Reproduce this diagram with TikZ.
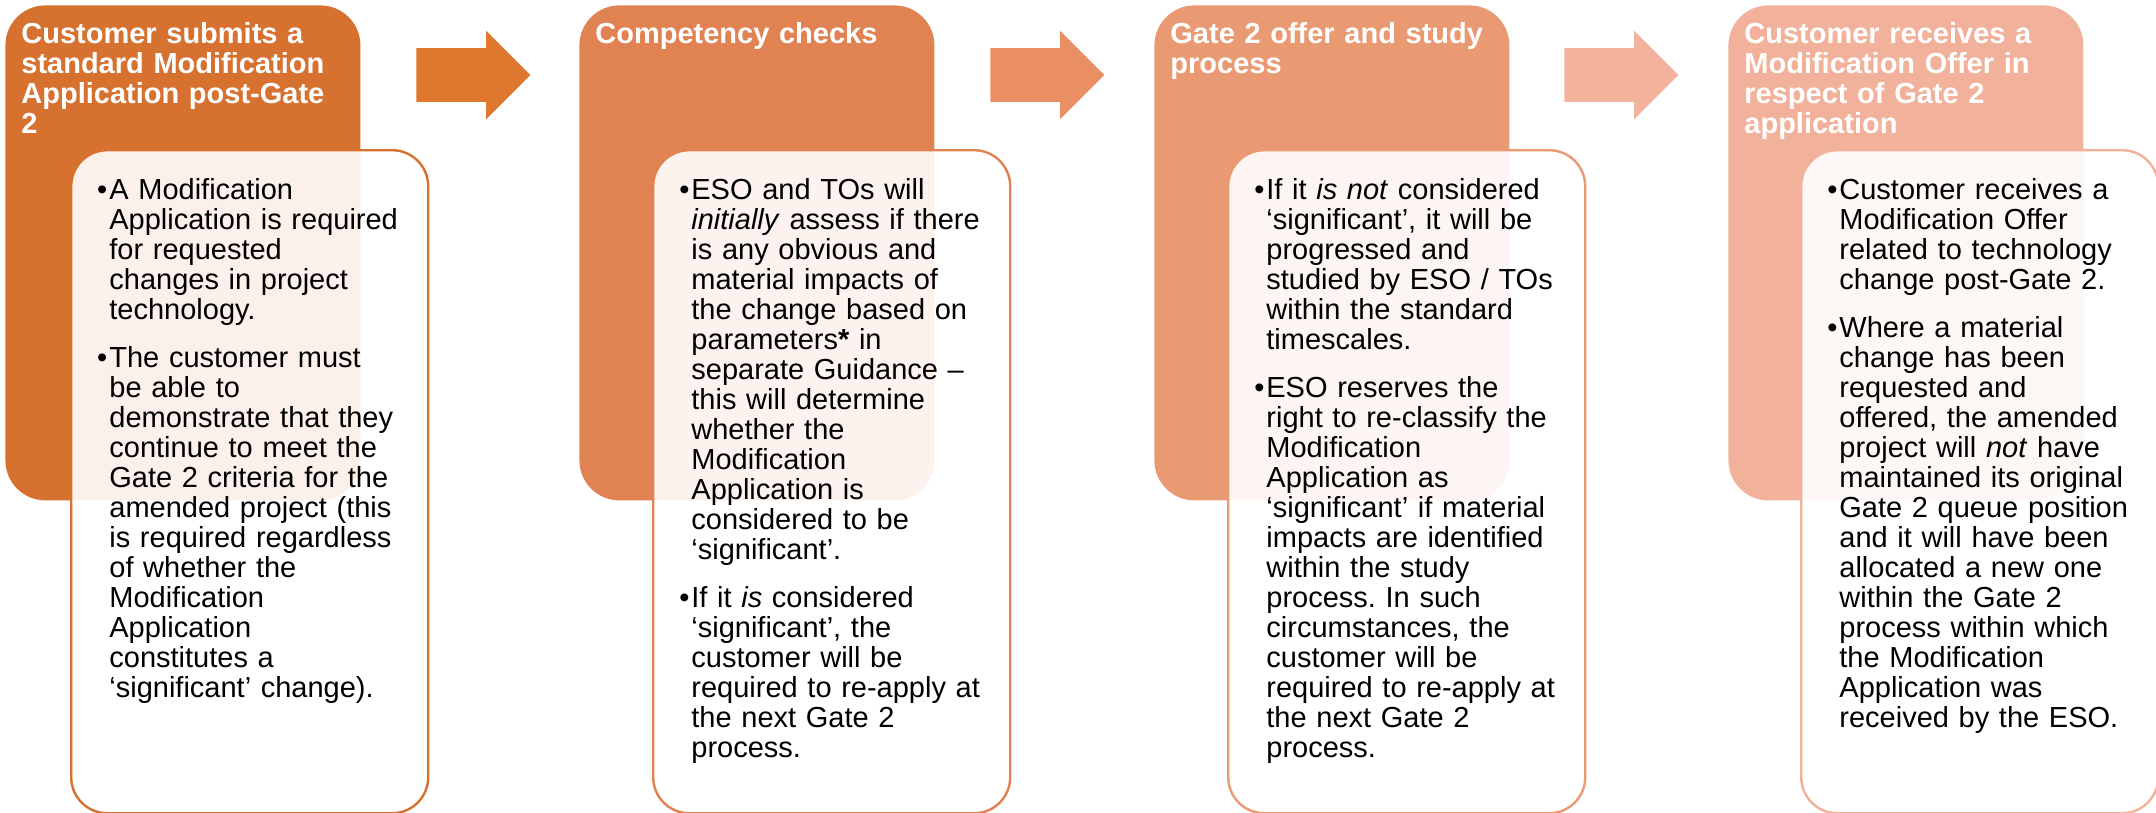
\documentclass[tikz,border=0pt]{standalone}
\usepackage{fontspec}
\setmainfont{Liberation Sans}
\usetikzlibrary{positioning,shapes.arrows}

\definecolor{stageA}{HTML}{D7712F}
\definecolor{stageB}{HTML}{E18252}
\definecolor{stageC}{HTML}{EA9A73}
\definecolor{stageD}{HTML}{F1B19A}
\definecolor{arrowA}{HTML}{E0772F}
\definecolor{arrowB}{HTML}{EA8E64}
\definecolor{arrowC}{HTML}{F2B29B}

\newcommand{\bul}{\leavevmode\llap{\textbullet\kern1pt}}
\frenchspacing

\tikzset{
  stagebox/.style={rectangle, rounded corners=20pt, anchor=north west, inner sep=0pt,
    minimum width=177.5pt, minimum height=247.5pt},
  detailbox/.style={rectangle, rounded corners=18pt, anchor=north west, inner sep=0pt,
    minimum width=178.5pt, minimum height=331.5pt, line width=1.2pt,
    fill=white, fill opacity=0.9},
  stagetitle/.style={anchor=base west, inner sep=0pt, text width=175pt, align=left,
    text=white, font=\fontsize{14.5}{15}\selectfont\bfseries},
  detailtext/.style={anchor=base west, inner sep=0pt, text width=170pt, align=left,
    font=\fontsize{14.5}{15}\selectfont},
  stagearrow/.style={single arrow, single arrow head extend=8.75pt,
    single arrow tip angle=90, minimum width=44pt, minimum height=57pt,
    inner xsep=0pt, inner ysep=13.25pt, anchor=tail},
}

\begin{document}
\begin{tikzpicture}[x=0.5pt, y=-0.5pt]
  \useasboundingbox (0,0) rectangle (2156,813);
  \path
    (5,5) node[stagebox, fill=stageA] (s1) {}
    (579,5) node[stagebox, fill=stageB] (s2) {}
    (1154,5) node[stagebox, fill=stageC] (s3) {}
    (1728,5) node[stagebox, fill=stageD] (s4) {};
  \path
    (70,149) node[detailbox, draw=stageA] (d1) {}
    (652,149) node[detailbox, draw=stageB] (d2) {}
    (1227,149) node[detailbox, draw=stageC] (d3) {}
    (1800,149) node[detailbox, draw=stageD] (d4) {};
  \begin{scope}
    \node[stagearrow, fill=arrowA] (a1) at (416,75) {};
    \node[stagearrow, fill=arrowB] (a2) at (990,75) {};
    \node[stagearrow, fill=arrowC] (a3) at (1564,75) {};
  \end{scope}
  % stage titles
  \node[stagetitle] (t1) at (21,44) {Customer submits a\\standard Modification\\Application post-Gate\\2};
  \node[stagetitle] (t2) at (595,44) {Competency checks};
  \node[stagetitle] (t3) at (1170,44) {Gate 2 offer and study\\process};
  \node[stagetitle] (t4) at (1744,44) {Customer receives a\\Modification Offer in\\respect of Gate 2\\application};
  % bullet texts
  \node[detailtext] (p1) at (109,199) {\bul A Modification\\
    Application is required\\
    for requested\\
    changes in project\\
    technology.\\[9pt]
    \bul The customer must\\
    be able to\\
    demonstrate that they\\
    continue to meet the\\
    Gate 2 criteria for the\\
    amended project (this\\
    is required regardless\\
    of whether the\\
    Modification\\
    Application\\
    constitutes a\\
    ‘significant’ change).};
  \node[detailtext] (p2) at (691,199) {\bul ESO and TOs will\\
    \textit{initially} assess if there\\
    is any obvious and\\
    material impacts of\\
    the change based on\\
    parameters\textbf{*} in\\
    separate Guidance –\\
    this will determine\\
    whether the\\
    Modification\\
    Application is\\
    considered to be\\
    ‘significant’.\\[9pt]
    \bul If it \textit{is} considered\\
    ‘significant’, the\\
    customer will be\\
    required to re-apply at\\
    the next Gate 2\\
    process.};
  \node[detailtext] (p3) at (1266,199) {\bul If it \textit{is not} considered\\
    ‘significant’, it will be\\
    progressed and\\
    studied by ESO / TOs\\
    within the standard\\
    timescales.\\[9pt]
    \bul ESO reserves the\\
    right to re-classify the\\
    Modification\\
    Application as\\
    ‘significant’ if material\\
    impacts are identified\\
    within the study\\
    process. In such\\
    circumstances, the\\
    customer will be\\
    required to re-apply at\\
    the next Gate 2\\
    process.};
  \node[detailtext] (p4) at (1839,199) {\bul Customer receives a\\
    Modification Offer\\
    related to technology\\
    change post-Gate 2.\\[9pt]
    \bul Where a material\\
    change has been\\
    requested and\\
    offered, the amended\\
    project will \textit{not} have\\
    maintained its original\\
    Gate 2 queue position\\
    and it will have been\\
    allocated a new one\\
    within the Gate 2\\
    process within which\\
    the Modification\\
    Application was\\
    received by the ESO.};
\end{tikzpicture}
\end{document}
